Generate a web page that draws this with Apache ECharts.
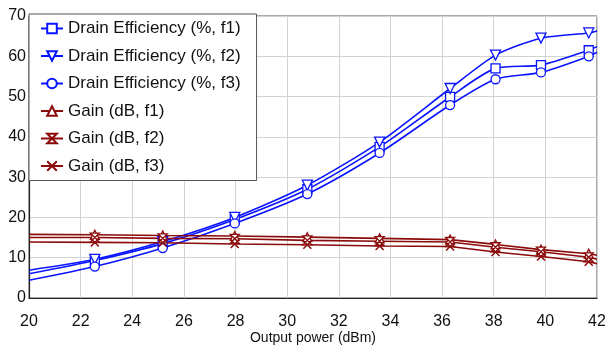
<!DOCTYPE html>
<html>
<head>
<meta charset="utf-8">
<script src="https://cdn.jsdelivr.net/npm/echarts@6/dist/echarts.min.js"></script>
<style>
  html, body { margin: 0; padding: 0; background: #fff; }
  #main { width: 606px; height: 345px; }
</style>
</head>
<body>
<div id="main"></div>
<script>
// output power points (dBm), last one is the line end without marker
var powerPts = [20, 22.55, 25.18, 27.97, 30.78, 33.58, 36.31, 38.07, 39.83, 41.68, 42];

var deF1 = [6.0, 9.3, 13.5, 19.5, 27.0, 37.5, 49.9, 57.0, 57.8, 61.5, 62.4];
var deF2 = [6.9, 9.6, 14.0, 20.0, 28.0, 38.7, 52.0, 60.3, 64.5, 65.8, 66.3];
var deF3 = [4.4, 7.8, 12.4, 18.5, 25.8, 36.0, 47.9, 54.3, 56.0, 60.0, 61.0];

var gainF1 = [15.8, 15.7, 15.5, 15.4, 15.1, 14.8, 14.5, 13.3, 12.0, 11.0, 10.6];
var gainF2 = [15.0, 15.0, 14.8, 14.7, 14.3, 14.1, 13.9, 12.6, 11.5, 10.1, 9.6];
var gainF3 = [13.9, 13.8, 13.7, 13.4, 13.2, 12.9, 12.8, 11.4, 10.3, 9.0, 8.5];

var seriesNames = [
  'Drain Efficiency (%, f1)',
  'Drain Efficiency (%, f2)',
  'Drain Efficiency (%, f3)',
  'Gain (dB, f1)',
  'Gain (dB, f2)',
  'Gain (dB, f3)'
];

var blue = '#0a14ff';
var red = '#8b0a0a';
var hourglass = 'path://M0,0 L10,0 L5,5 Z M5,5 L10,10 L0,10 Z';
var cross = 'path://M0,0 L10,10 M10,0 L0,10';

var myChart = echarts.init(document.getElementById('main'));

function pts(vals) {
  // first and last points only carry the line, no marker
  return vals.map(function (v, i) {
    var item = { value: [powerPts[i], v] };
    if (i === 0 || i === vals.length - 1) item.symbol = 'none';
    return item;
  });
}

function mk(name, vals, color, symbol, size, rot, smooth) {
  return {
    name: name,
    type: 'line',
    data: pts(vals),
    smooth: smooth,
    symbol: symbol,
    symbolSize: size,
    symbolRotate: rot || 0,
    showAllSymbol: true,
    lineStyle: { color: color, width: 1.6 },
    itemStyle: { color: '#fff', borderColor: color, borderWidth: 1.3 },
    emphasis: { disabled: true }
  };
}

myChart.setOption({
  backgroundColor: '#fff',
  animation: false,
  textStyle: { fontFamily: 'Liberation Sans, Arial, sans-serif' },
  grid: {
    left: 29, right: 9, top: 16, bottom: 47,
    outerBoundsMode: 'none',
    show: true, borderColor: '#555', borderWidth: 1
  },
  legend: {
    orient: 'vertical',
    left: 29, top: 14,
    data: seriesNames,
    itemWidth: 22, itemHeight: 12,
    itemGap: 10.5,
    padding: [6, 16, 6, 11],
    backgroundColor: '#fff',
    borderColor: '#555', borderWidth: 1,
    textStyle: { color: '#111', fontSize: 17, fontFamily: 'Liberation Sans, Arial, sans-serif' }
  },
  xAxis: {
    type: 'value',
    min: 20, max: 42, interval: 2,
    name: 'Output power (dBm)',
    nameLocation: 'middle',
    nameGap: 33,
    nameMoveOverlap: false,
    nameTextStyle: { color: '#111', fontSize: 14 },
    axisLine: { lineStyle: { color: '#222', width: 1.2 } },
    axisTick: { show: false },
    axisLabel: { color: '#111', fontSize: 16, margin: 16 },
    splitLine: { lineStyle: { color: '#d2d2d2', width: 1 } }
  },
  yAxis: {
    type: 'value',
    min: 0, max: 70, interval: 10,
    axisLine: { show: true, lineStyle: { color: '#222', width: 1.2 } },
    axisTick: { show: false },
    axisLabel: { color: '#111', fontSize: 16, margin: 3 },
    splitLine: { lineStyle: { color: '#d2d2d2', width: 1 } }
  },
  series: [
    mk(seriesNames[0], deF1, blue, 'rect', 9, 0, 0.25),
    mk(seriesNames[1], deF2, blue, 'triangle', 10, 180, 0.25),
    mk(seriesNames[2], deF3, blue, 'circle', 9, 0, 0.25),
    mk(seriesNames[3], gainF1, red, 'triangle', 9, 0, false),
    mk(seriesNames[4], gainF2, red, hourglass, 9, 0, false),
    (function () {
      var s = mk(seriesNames[5], gainF3, red, cross, 8, 0, false);
      s.itemStyle = { color: 'rgba(0,0,0,0)', borderColor: red, borderWidth: 1.5 };
      return s;
    })()
  ]
});
</script>
</body>
</html>
